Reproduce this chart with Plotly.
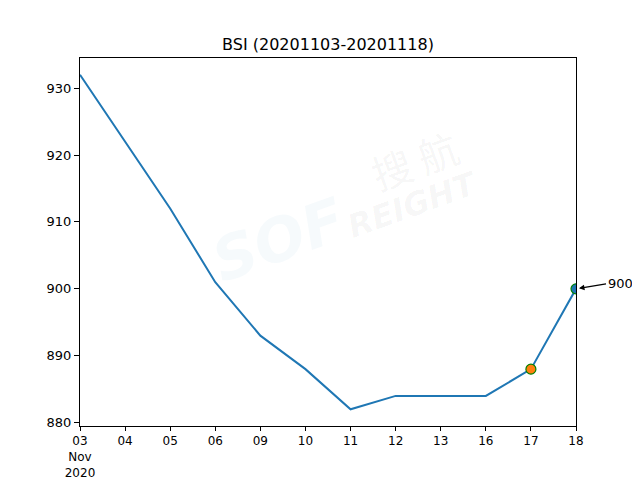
import plotly.graph_objects as go

# BSI 指数 2020-11-03 .. 2020-11-18 (交易日)
dates = ["2020-11-03", "2020-11-04", "2020-11-05", "2020-11-06", "2020-11-09", "2020-11-10",
         "2020-11-11", "2020-11-12", "2020-11-13", "2020-11-16", "2020-11-17", "2020-11-18"]
tick_labels = ["03<br>Nov<br>2020", "04", "05", "06", "09", "10", "11", "12", "13", "16", "17", "18"]
bsi = [932, 922, 912, 901, 893, 888, 882, 884, 884, 884, 888, 900]

# выделенные точки
prev_date, prev_val = dates[-2], bsi[-2]
last_date, last_val = dates[-1], bsi[-1]

FONT = "DejaVu Sans, sans-serif"

fig = go.Figure()

fig.add_trace(go.Scatter(x=dates, y=bsi, mode="lines",
                         line=dict(color="#1f77b4", width=2), cliponaxis=True))
fig.add_trace(go.Scatter(x=[prev_date], y=[prev_val], mode="markers",
                         marker=dict(color="#ff7f0e", size=10, line=dict(color="green", width=1.2))))
fig.add_trace(go.Scatter(x=[last_date], y=[last_val], mode="markers", cliponaxis=True,
                         marker=dict(color="#1f77b4", size=10, line=dict(color="green", width=1.2))))

# подпись последнего значения со стрелкой
fig.add_annotation(x=last_date, y=last_val, text=str(last_val), showarrow=True,
                   ax=30, ay=-5, arrowhead=2, arrowsize=1, arrowwidth=1.1,
                   arrowcolor="black", standoff=3, xanchor="left", yanchor="middle",
                   font=dict(family=FONT, size=13, color="black"))

# водяной знак (полупрозрачный, линия видна сквозь него)
fig.add_annotation(xref="paper", yref="paper", x=0.675, y=0.723, text="搜 航", showarrow=False,
                   xanchor="center", yanchor="middle", textangle=-20,
                   font=dict(family="Noto Sans CJK SC", size=40, color="rgba(0,0,0,0.05)"))
fig.add_annotation(xref="paper", yref="paper", x=0.67, y=0.60, text="<b><i>REIGHT</i></b>",
                   showarrow=False, xanchor="center", yanchor="middle", textangle=-20,
                   font=dict(family="DejaVu Sans", size=32, color="rgba(0,0,0,0.04)"))
fig.add_annotation(xref="paper", yref="paper", x=0.40, y=0.505, text="<b><i>SOF</i></b>",
                   showarrow=False, xanchor="center", yanchor="middle", textangle=-20,
                   font=dict(family="DejaVu Sans", size=60, color="rgba(31,119,180,0.04)"))

# страница имеет отступ 8px, поэтому фигура чуть меньше окна
fig.update_layout(
    width=632, height=472,
    margin=dict(l=72, r=64, t=50, b=54),
    paper_bgcolor="white", plot_bgcolor="white",
    showlegend=False,
    title=dict(text="BSI (20201103-20201118)", x=(72 + 248) / 632, xanchor="center",
               y=1 - 36 / 472, yanchor="middle",
               font=dict(family=FONT, size=16, color="black")),
    font=dict(family=FONT, size=13, color="black"),
)

fig.update_xaxes(type="category", range=[0, len(dates) - 1], tickvals=dates, ticktext=tick_labels,
                 tickfont=dict(size=12),
                 showgrid=False, showline=True, linecolor="black", linewidth=1, mirror=True,
                 ticks="outside", ticklen=4, tickcolor="black", zeroline=False, automargin=False)
fig.update_yaxes(range=[879.5, 934.5], tickvals=[880, 890, 900, 910, 920, 930],
                 showgrid=False, showline=True, linecolor="black", linewidth=1, mirror=True,
                 ticks="outside", ticklen=5, tickcolor="black", zeroline=False, automargin=False)

fig.write_html("out.html")
